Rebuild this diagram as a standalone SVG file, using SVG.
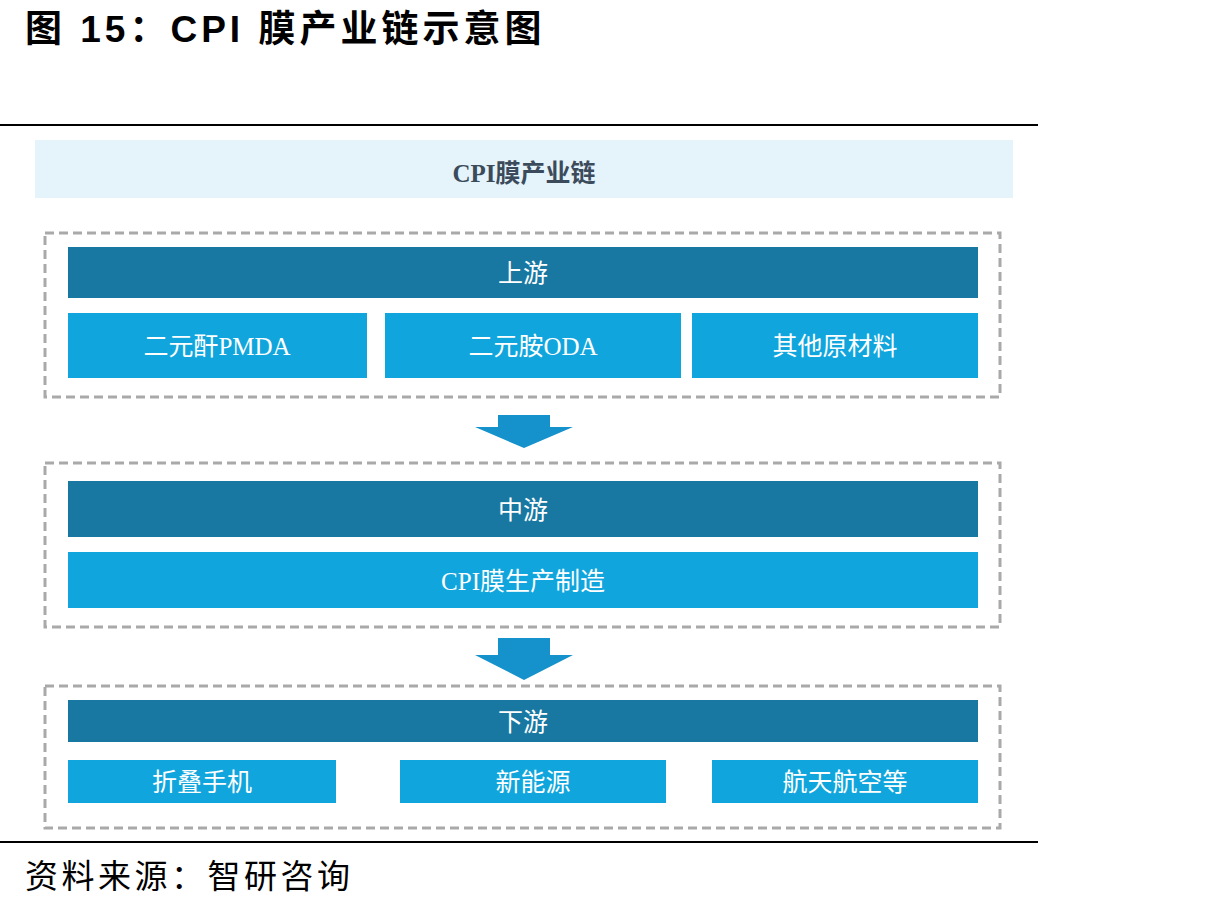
<svg xmlns="http://www.w3.org/2000/svg" width="1214" height="909" viewBox="0 0 1214 909">
<style>
.dash{fill:none;stroke:#a9a9a9;stroke-width:3;stroke-dasharray:9 5}
.dark{fill:#1878a2}
.light{fill:#10a6dd}
.t{font-family:"Liberation Serif","Noto Sans CJK SC",serif;font-size:25px;fill:#fff;text-anchor:middle;dominant-baseline:central}
.arrow{fill:#1592cb}
</style>
<rect width="1214" height="909" fill="#fff"/>
<text x="25" y="42" font-family="Liberation Sans,'Noto Sans CJK SC',sans-serif" font-size="37" font-weight="bold" letter-spacing="4" fill="#000">图 15：CPI 膜产业链示意图</text>
<line x1="0" y1="125" x2="1038" y2="125" stroke="#000" stroke-width="2"/>
<g id="header"><rect x="35" y="140" width="978" height="58" fill="#e5f3fa"/><text x="524" y="173" class="t" style="fill:#3b4b5b;font-weight:bold">CPI膜产业链</text></g>
<g id="upstream">
<rect class="dash" x="45" y="233" width="955" height="164"/>
<rect class="dark" x="68" y="247" width="910" height="51"/><text class="t" x="523" y="273">上游</text>
<rect class="light" x="68" y="313" width="299" height="65"/><text class="t" x="217" y="346">二元酐PMDA</text>
<rect class="light" x="385" y="313" width="296" height="65"/><text class="t" x="533" y="346">二元胺ODA</text>
<rect class="light" x="692" y="313" width="286" height="65"/><text class="t" x="835" y="346">其他原材料</text>
</g>
<g id="midstream">
<rect class="dash" x="45" y="463" width="955" height="164"/>
<rect class="dark" x="68" y="481" width="910" height="56"/><text class="t" x="523" y="510">中游</text>
<rect class="light" x="68" y="552" width="910" height="56"/><text class="t" x="523" y="581">CPI膜生产制造</text>
</g>
<g id="downstream">
<rect class="dash" x="45" y="686" width="955" height="142"/>
<rect class="dark" x="68" y="700" width="910" height="42"/><text class="t" x="523" y="722">下游</text>
<rect class="light" x="68" y="760" width="268" height="43"/><text class="t" x="202" y="782">折叠手机</text>
<rect class="light" x="400" y="760" width="266" height="43"/><text class="t" x="533" y="782">新能源</text>
<rect class="light" x="712" y="760" width="266" height="43"/><text class="t" x="845" y="782">航天航空等</text>
</g>
<g id="connectors">
<polygon class="arrow" points="498,415 550,415 550,427 573,427 524,448 475,427 498,427"/>
<polygon class="arrow" points="498,638 550,638 550,655 573,655 524,680 475,655 498,655"/>
</g>
<line x1="0" y1="842" x2="1038" y2="842" stroke="#000" stroke-width="2"/>
<text x="25" y="888" font-family="'Noto Sans CJK SC',sans-serif" font-size="33" letter-spacing="3.5" fill="#000">资料来源：智研咨询</text>
</svg>
